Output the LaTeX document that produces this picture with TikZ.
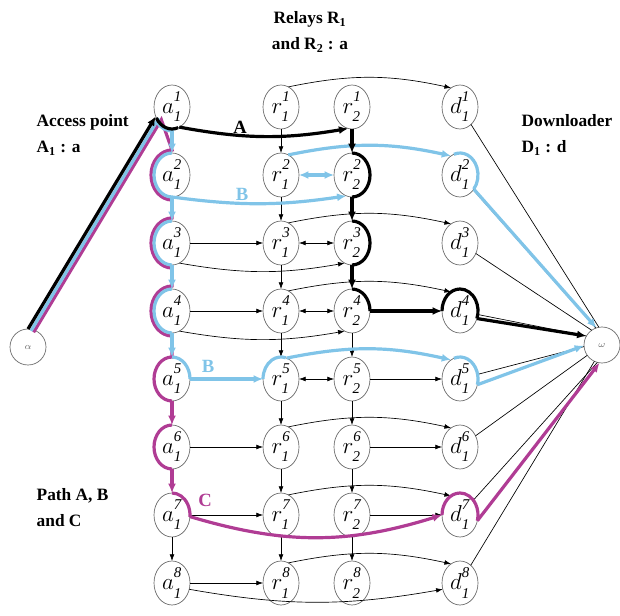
\documentclass[tikz,border=0pt]{standalone}
\usepackage{fontspec}
\setmainfont{Liberation Serif}
\usetikzlibrary{calc,shapes.geometric,arrows.meta}
\definecolor{pathblue}{RGB}{128,196,232}
\definecolor{pathpurple}{RGB}{176,60,148}
\def\ellarc[#1](#2)(#3:#4:#5:#6){\draw[#1] ($(#2)+({#5*cos(#3)},{#6*sin(#3)})$) arc[start angle=#3, end angle=#4, x radius=#5, y radius=#6];}
\def\nlab#1#2#3{$#1^{\raisebox{2.5pt}{$\scriptstyle\mathit{#2}$}}_{\raisebox{-2pt}{$\scriptstyle\mathit{#3}$}}$}

\begin{document}
\begin{tikzpicture}[x=0.75pt,y=0.75pt,
	vert/.style={ellipse,draw=black!60,line width=0.5pt,minimum width=27pt,minimum height=33pt,inner sep=0pt,outer sep=0pt,font=\fontsize{16}{16}\selectfont},
	term/.style={circle,draw=black!60,line width=0.5pt,minimum size=27pt,inner sep=0pt,outer sep=0pt,font=\scriptsize,text=black!60},
	lnk/.style={line width=0.5pt,-{Latex[length=5pt,width=3.6pt]}},
	lnkb/.style={line width=0.5pt,{Latex[length=5pt,width=3.6pt]}-{Latex[length=5pt,width=3.6pt]}},
	fat/.style={line width=2.4pt},
	fatarr/.style={line width=2.4pt,-{Latex[length=7pt,width=6pt]}},
	heading/.style={font=\bfseries\fontsize{13}{19.5}\selectfont,align=left},
	plab/.style={font=\bfseries\fontsize{14}{14}\selectfont}]
			%%%%% START %%%%%
			\def\xa{172}
			\def\xra{281}
			\def\xrb{352}
			\def\xd{460}
			\def\yone{508}
			\def\ytwo{440}
			\def\ythree{372}
			\def\yfour{304}
			\def\yfive{236}
			\def\ysix{168}
			\def\yseven{100}
			\def\yeight{32}
			
			\useasboundingbox (0,0) rectangle (620,615);
			
			% headings
			\node[heading,align=center] (relays) at (310,583) {Relays R\textsubscript{1}\\and R\textsubscript{2} : a};
			\node[heading,anchor=west] (access) at (32,480) {Access point\\A\textsubscript{1} : a};
			\node[heading,anchor=west] (down) at (517,480) {Downloader\\D\textsubscript{1} : d};
			\node[heading,anchor=west] (paths) at (32,107) {Path A, B\\and C};
			
			% source and sink
			\node[term] (al) at (28,268) {$\alpha$};
			\node[term] (om) at (602,270) {$\omega$};
			
			% access point
			\node[vert] (a1) at (\xa,\yone) {\nlab{a}{1}{1}};
			\node[vert] (a2) at (\xa,\ytwo) {\nlab{a}{2}{1}};
			\node[vert] (a3) at (\xa,\ythree) {\nlab{a}{3}{1}};
			\node[vert] (a4) at (\xa,\yfour) {\nlab{a}{4}{1}};
			\node[vert] (a5) at (\xa,\yfive) {\nlab{a}{5}{1}};
			\node[vert] (a6) at (\xa,\ysix) {\nlab{a}{6}{1}};
			\node[vert] (a7) at (\xa,\yseven) {\nlab{a}{7}{1}};
			\node[vert] (a8) at (\xa,\yeight) {\nlab{a}{8}{1}};
			
			% relay 1
			\node[vert] (ra1) at (\xra,\yone) {\nlab{r}{1}{1}};
			\node[vert] (ra2) at (\xra,\ytwo) {\nlab{r}{2}{1}};
			\node[vert] (ra3) at (\xra,\ythree) {\nlab{r}{3}{1}};
			\node[vert] (ra4) at (\xra,\yfour) {\nlab{r}{4}{1}};
			\node[vert] (ra5) at (\xra,\yfive) {\nlab{r}{5}{1}};
			\node[vert] (ra6) at (\xra,\ysix) {\nlab{r}{6}{1}};
			\node[vert] (ra7) at (\xra,\yseven) {\nlab{r}{7}{1}};
			\node[vert] (ra8) at (\xra,\yeight) {\nlab{r}{8}{1}};
			
			% relay 2
			\node[vert] (rb1) at (\xrb,\yone) {\nlab{r}{1}{2}};
			\node[vert] (rb2) at (\xrb,\ytwo) {\nlab{r}{2}{2}};
			\node[vert] (rb3) at (\xrb,\ythree) {\nlab{r}{3}{2}};
			\node[vert] (rb4) at (\xrb,\yfour) {\nlab{r}{4}{2}};
			\node[vert] (rb5) at (\xrb,\yfive) {\nlab{r}{5}{2}};
			\node[vert] (rb6) at (\xrb,\ysix) {\nlab{r}{6}{2}};
			\node[vert] (rb7) at (\xrb,\yseven) {\nlab{r}{7}{2}};
			\node[vert] (rb8) at (\xrb,\yeight) {\nlab{r}{8}{2}};
			
			% downloader
			\node[vert] (d1) at (\xd,\yone) {\nlab{d}{1}{1}};
			\node[vert] (d2) at (\xd,\ytwo) {\nlab{d}{2}{1}};
			\node[vert] (d3) at (\xd,\ythree) {\nlab{d}{3}{1}};
			\node[vert] (d4) at (\xd,\yfour) {\nlab{d}{4}{1}};
			\node[vert] (d5) at (\xd,\yfive) {\nlab{d}{5}{1}};
			\node[vert] (d6) at (\xd,\ysix) {\nlab{d}{6}{1}};
			\node[vert] (d7) at (\xd,\yseven) {\nlab{d}{7}{1}};
			\node[vert] (d8) at (\xd,\yeight) {\nlab{d}{8}{1}};
			
			% thin links
			\draw[lnk] (a3) -- (ra3);
			\draw[lnk] (a4) -- (ra4);
			\draw[lnk] (a6) -- (ra6);
			\draw[lnk] (a7) -- (ra7);
			\draw[lnk] (a8) -- (ra8);
			\draw[lnkb] (ra3) -- (rb3);
			\draw[lnkb] (ra4) -- (rb4);
			\draw[lnkb] (ra5) -- (rb5);
			\draw[lnk] (rb5) -- (d5);
			\draw[lnk] (rb6) -- (d6);
			\draw[lnk] (rb7) -- (d7);
			\draw[lnk] (a7) -- (a8);
			
			\draw[lnk] (ra1) -- (ra2);
			\draw[lnk] (ra2) -- (ra3);
			\draw[lnk] (ra3) -- (ra4);
			\draw[lnk] (ra4) -- (ra5);
			\draw[lnk] (ra5) -- (ra6);
			\draw[lnk] (ra6) -- (ra7);
			\draw[lnk] (ra7) -- (ra8);
			\draw[lnk] (rb4) -- (rb5);
			\draw[lnk] (rb5) -- (rb6);
			\draw[lnk] (rb6) -- (rb7);
			\draw[lnk] (rb7) -- (rb8);
			
			\draw[lnk] (ra1.70) to[bend left=12] (d1.115);
			\draw[lnk] (ra3.70) to[bend left=12] (d3.115);
			\draw[lnk] (ra4.70) to[bend left=12] (d4.115);
			\draw[lnk] (ra6.70) to[bend left=12] (d6.115);
			\draw[lnk] (ra7.70) to[bend left=12] (d7.115);
			\draw[lnk] (ra8.70) to[bend left=12] (d8.115);
			\draw[lnk] (a3.-70) to[bend right=10] (rb3.250);
			\draw[lnk] (a4.-70) to[bend right=10] (rb4.250);
			\draw[lnk] (a8.-20) to[bend right=10] (d8.200);
			
			\draw[line width=0.5pt] (d1) -- (om.100);
			\draw[line width=0.5pt] (d2) -- (om.110);
			\draw[line width=0.5pt] (d3) -- (om.125);
			\draw[line width=0.5pt] (d4) -- (om.150);
			\draw[line width=0.5pt] (d5) -- (om.185);
			\draw[line width=0.5pt] (d6) -- (om.215);
			\draw[line width=0.5pt] (d7) -- (om.255);
			\draw[line width=0.5pt] (d8) -- (om.245);
			
			% path C
			\draw[fat,pathpurple] ($(al.north)+(5.6,-3.3)$) -- ($(a1.210)+(5.6,-3.3)$) -- ($(a2)+(0,25)$) arc[start angle=90,end angle=270,x radius=21,y radius=25] -- ($(a3)+(0,25)$) arc[start angle=90,end angle=270,x radius=21,y radius=25] -- ($(a4)+(0,25)$) arc[start angle=90,end angle=270,x radius=21,y radius=25] -- ($(a5)+(0,22)$) arc[start angle=90,end angle=270,x radius=18,y radius=22];
			\draw[fatarr,pathpurple] (a5.south) -- (a6.north);
			\ellarc[fat,pathpurple](a6)(90:270:18:22)
			\draw[fatarr,pathpurple] (a6.south) -- (a7.north);
			\ellarc[fat,pathpurple](a7)(90:-5:18:22)
			\draw[fatarr,pathpurple] (a7.-5) to[bend right=17] (d7.west);
			\ellarc[fat,pathpurple](d7)(180:-15:18:22)
			\draw[fatarr,pathpurple] ($(d7)+({18*cos(-15)},{22*sin(-15)})$) -- (om.262);
			\node[plab,text=pathpurple] (lc) at (205,115) {C};
			
			% path B
			\draw[fat,pathblue] ($(al.north)+(3,-1.8)$) -- ($(a1.210)+(3,-1.8)$);
			\ellarc[fat,pathblue](a1)(218:272:19.5:24)
			\draw[fatarr,pathblue] (a1.south) -- (a2.north);
			\ellarc[fat,pathblue](a2)(90:270:18:22)
			\draw[fatarr,pathblue] (a2.south) -- (a3.north);
			\ellarc[fat,pathblue](a3)(90:270:18:22)
			\draw[fatarr,pathblue] (a3.south) -- (a4.north);
			\ellarc[fat,pathblue](a4)(90:270:18:22)
			\draw[fatarr,pathblue] (a4.south) -- (a5.north);
			\ellarc[fat,pathblue](a5)(90:0:18:22)
			\draw[fatarr,pathblue] (a5.east) -- (ra5.west);
			\ellarc[fat,pathblue](ra5)(180:75:18:22)
			\draw[fatarr,pathblue] (ra5.75) to[bend left=12] (d5.115);
			\ellarc[fat,pathblue](d5)(110:-15:18:22)
			\draw[fatarr,pathblue] ($(d5)+({18*cos(-15)},{22*sin(-15)})$) -- (om.182);
			\draw[fatarr,pathblue] (a2.south) to[bend right=8] (rb2.255);
			\draw[fat,pathblue,{Latex[length=7pt,width=6pt]}-{Latex[length=7pt,width=6pt]}] (ra2) -- (rb2);
			\draw[fatarr,pathblue] (ra2.70) to[bend left=12] (d2.115);
			\ellarc[fat,pathblue](d2)(110:-40:18:22)
			\draw[fatarr,pathblue] ($(d2)+({18*cos(-40)},{22*sin(-40)})$) -- (om.108);
			\node[plab,text=pathblue] (lb1) at (242,421) {B};
			\node[plab,text=pathblue] (lb2) at (208,249) {B};
			
			% path A
			\draw[fatarr] (al.north) -- (a1.210);
			\ellarc[fat](a1)(210:290:18:22)
			\draw[fatarr] (a1.290) to[bend right=10] (rb1.260);
			\draw[fatarr] (rb1.south) -- (rb2.north);
			\ellarc[fat](rb2)(90:-90:18:22)
			\draw[fatarr] (rb2.south) -- (rb3.north);
			\ellarc[fat](rb3)(90:-90:18:22)
			\draw[fatarr] (rb3.south) -- (rb4.north);
			\ellarc[fat](rb4)(90:0:18:22)
			\draw[fatarr] (rb4.east) -- (d4.west);
			\ellarc[fat](d4)(180:-20:18:22)
			\draw[fatarr] ($(d4)+({18*cos(-20)},{22*sin(-20)})$) -- (om.150);
			\node[plab] (la) at (240,488) {A};
			%%%%% END %%%%%
\end{tikzpicture}
\end{document}
